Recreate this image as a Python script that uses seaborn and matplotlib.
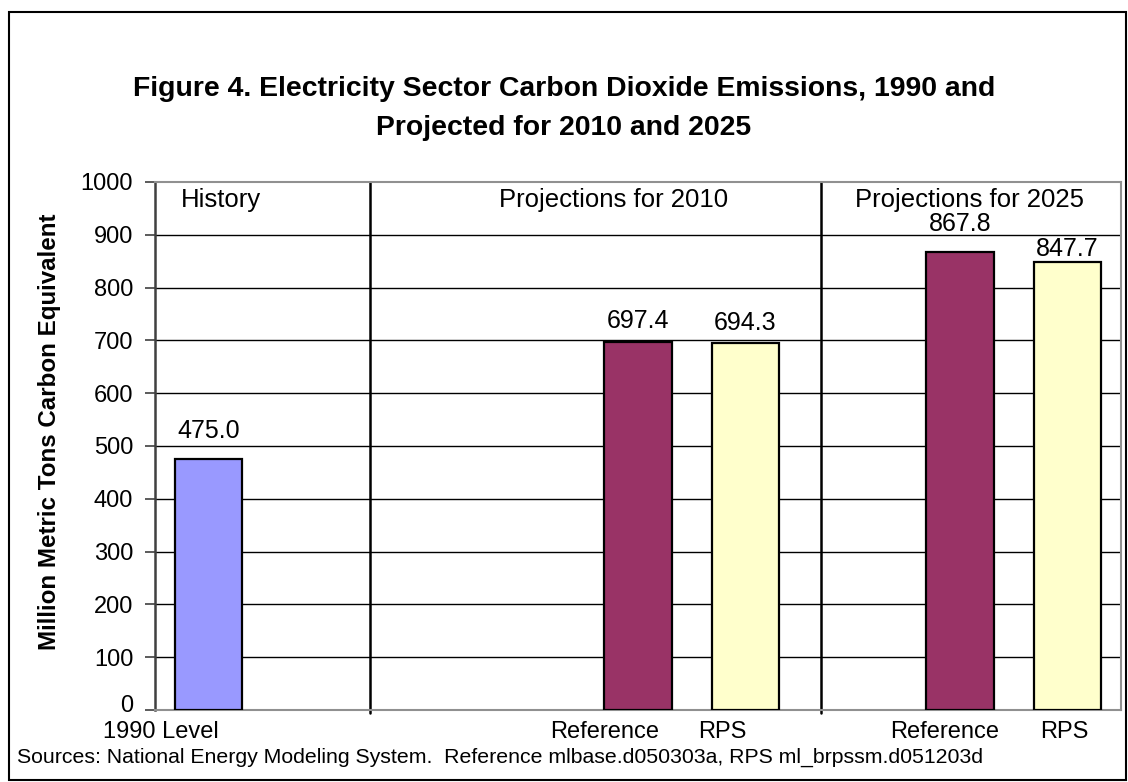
import matplotlib
matplotlib.use("Agg")
import matplotlib.pyplot as plt
import matplotlib.transforms as mtransforms
from matplotlib.patches import Rectangle
import seaborn as sns
import pandas as pd

# Emissions, million metric tons carbon equivalent
categories = ["1990 Level", "Reference", "RPS", "Reference", "RPS"]
series = ["1990", "Reference", "RPS", "Reference", "RPS"]
values = [475.0, 697.4, 694.3, 867.8, 847.7]
value_labels = ["475.0", "697.4", "694.3", "867.8", "847.7"]
section_labels = ["History", "Projections for 2010", "Projections for 2025"]
y_ticks = [0, 100, 200, 300, 400, 500, 600, 700, 800, 900, 1000]

# slot of each bar on the category axis (9 slots, some left empty)
positions = [0, 4, 5, 7, 8]
palette = {"1990": "#9999FF", "Reference": "#993366", "RPS": "#FFFFCC"}

df = pd.DataFrame({"pos": positions, "value": values, "series": series})

sns.set_theme(style="white", rc={"text.color": "black", "axes.labelcolor": "black",
                                 "xtick.color": "black", "ytick.color": "black"})
plt.rcParams["font.family"] = ["Liberation Sans", "DejaVu Sans"]

fig = plt.figure(figsize=(11.28, 7.82), dpi=100)
ax = fig.add_axes([155 / 1128, 72 / 782, 966 / 1128, 528 / 782])

sns.barplot(data=df, x="pos", y="value", hue="series", palette=palette,
            native_scale=True, dodge=False, width=0.63, legend=False,
            edgecolor="black", linewidth=1.6, saturation=1, ax=ax, zorder=3)

ax.set_xlim(-0.5, 8.5)
ax.set_ylim(0, 1000)
ax.set_yticks(y_ticks)
ax.set_yticklabels([str(t) for t in y_ticks], fontsize=17)
ax.set_xticks(positions)
ax.set_xticklabels(categories, fontsize=17)
ax.set_xlabel("")
ax.set_ylabel("Million Metric Tons Carbon Equivalent", fontsize=17.4,
              fontweight="bold")
ax.yaxis.set_label_coords(-0.097, 0.527)

# horizontal gridlines
for t in y_ticks[1:-1]:
    ax.axhline(t, color="black", linewidth=1.0, zorder=1)

# tick styling
ax.tick_params(axis="y", which="major", left=True, length=7, width=1.2,
               color="#404040", pad=8.7, labelcolor="black")
ax.tick_params(axis="x", which="major", bottom=False, pad=2, labelcolor="black")

# the zero label sits a little higher, clear of the category label below
zero_lab = ax.get_yticklabels()[0]
zero_lab.set_transform(zero_lab.get_transform() +
                       mtransforms.ScaledTranslation(0, 6 * 0.72 / 72, fig.dpi_scale_trans))

# nudge category labels the way the original layout sits
label_shift_px = [-48, -33, -23, -15, -3]
for lab, dx in zip(ax.get_xticklabels(), label_shift_px):
    lab.set_transform(lab.get_transform() +
                      mtransforms.ScaledTranslation(dx * 0.72 / 72, 0, fig.dpi_scale_trans))

for side in ["top", "right", "bottom"]:
    ax.spines[side].set_color("#909090")
    ax.spines[side].set_linewidth(1.5)
ax.spines["left"].set_color("#404040")
ax.spines["left"].set_linewidth(1.8)

# period separators
for xs in [1.5, 5.705]:
    ax.axvline(xs, ymin=-0.006, ymax=1, color="black", linewidth=1.8,
               zorder=2, clip_on=False)

# section headers
trans = mtransforms.blended_transform_factory(ax.transData, ax.transAxes)
for x, s in zip([0.115, 3.776, 7.093], section_labels):
    ax.text(x, 0.966, s, transform=trans, ha="center", va="center", fontsize=18.5)

# value labels above bars
label_gap_px = [28, 21, 20, 28, 13]
for x, v, s, gap in zip(positions, values, value_labels, label_gap_px):
    ax.annotate(s, xy=(x, v), xytext=(0, gap * 0.72), textcoords="offset points",
                ha="center", va="center", fontsize=18)

fig.text(0.5, 1 - 89 / 782, "Figure 4. Electricity Sector Carbon Dioxide Emissions, 1990 and",
         ha="center", va="center", fontsize=20.4, fontweight="bold")
fig.text(0.5, 1 - 128 / 782, "Projected for 2010 and 2025",
         ha="center", va="center", fontsize=20.4, fontweight="bold")

fig.text(17 / 1128, 1 - 757 / 782,
         "Sources: National Energy Modeling System.  Reference mlbase.d050303a, RPS ml_brpssm.d051203d",
         ha="left", va="center", fontsize=15.3)

# outer frame
fig.patches.append(Rectangle((9 / 1128, 2 / 782), 1117 / 1128, 768 / 782,
                             transform=fig.transFigure, fill=False,
                             edgecolor="black", linewidth=1.5))

fig.savefig("out.png", dpi=100)
